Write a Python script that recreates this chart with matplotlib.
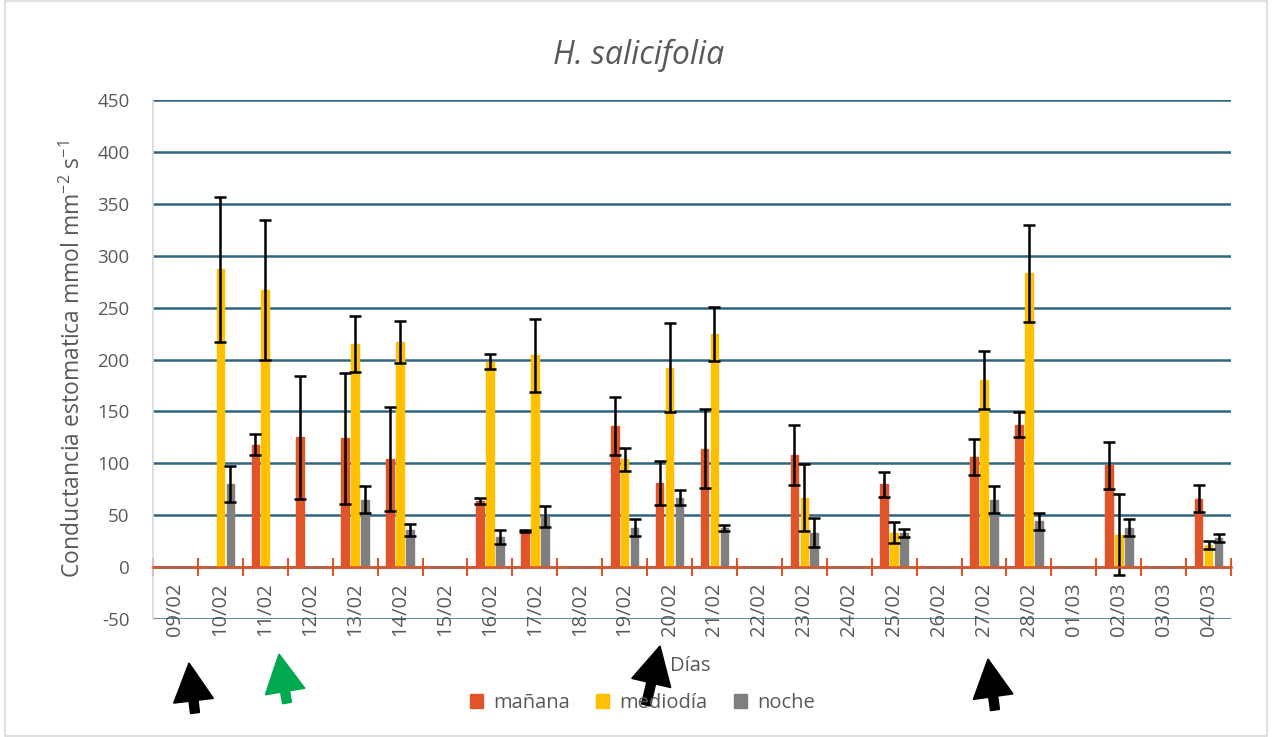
import matplotlib.pyplot as plt
import numpy as np
from matplotlib.patches import FancyArrow, Rectangle
from matplotlib.transforms import IdentityTransform

plt.rcParams['font.family'] = ['Open Sans', 'DejaVu Sans']
plt.rcParams['mathtext.fontset'] = 'custom'
plt.rcParams['mathtext.rm'] = 'Open Sans'
plt.rcParams['axes.unicode_minus'] = False

# Conductancia estomática por día y momento (media y error)
dias = ['09/02', '10/02', '11/02', '12/02', '13/02', '14/02', '15/02', '16/02',
        '17/02', '18/02', '19/02', '20/02', '21/02', '22/02', '23/02', '24/02',
        '25/02', '26/02', '27/02', '28/02', '01/03', '02/03', '03/03', '04/03']

manana = [0, 0, 118, 125, 124, 104, 0, 64, 35, 0, 136, 81, 114, 0, 108, 0,
          80, 0, 106, 137, 0, 98, 0, 66]
manana_err = [0, 0, 10, 59, 63, 50, 0, 3, 1, 0, 28, 21, 38, 0, 29, 0,
              12, 0, 17, 12, 0, 23, 0, 13]

mediodia = [0, 287, 267, 0, 215, 217, 0, 198, 204, 0, 104, 192, 225, 0, 67, 0,
            33, 0, 180, 283, 0, 31, 0, 21]
mediodia_err = [0, 70, 67, 0, 27, 20, 0, 7, 35, 0, 11, 43, 26, 0, 32, 0,
                10, 0, 28, 47, 0, 39, 0, 4]

noche = [0, 80, 0, 0, 65, 36, 0, 29, 49, 0, 38, 67, 38, 0, 33, 0,
         33, 0, 65, 44, 0, 38, 0, 28]
noche_err = [0, 17, 0, 0, 13, 6, 0, 7, 10, 0, 8, 7, 3, 0, 14, 0,
             4, 0, 13, 8, 0, 8, 0, 4]

series = [
    ('mañana', manana, manana_err, '#E0542A'),
    ('mediodía', mediodia, mediodia_err, '#FFC000'),
    ('noche', noche, noche_err, '#7F7F7F'),
]

texto = '#595959'
rejilla = '#2F6580'
eje_x = '#E0542A'

fig = plt.figure(figsize=(12.72, 7.37), dpi=100)
ax = fig.add_axes([0.1203, 0.1601, 0.8475, 0.7042])

x = np.arange(len(dias))
ancho = 0.17
desplaz = [-0.222, 0.0, 0.222]

for (nombre, vals, errs, color), dx in zip(series, desplaz):
    vals = np.array(vals, dtype=float)
    errs = np.array(errs, dtype=float)
    ax.bar(x + dx, vals, ancho, color=color, edgecolor=color, linewidth=1,
           label=nombre, zorder=3)
    con_dato = vals > 0
    ax.errorbar(x[con_dato] + dx, vals[con_dato], yerr=errs[con_dato], fmt='none',
                ecolor='black', elinewidth=1.8, capsize=4.5, capthick=1.8, zorder=4)
    # los días sin medida quedan como un trazo plano sobre el eje
    sin_dato = ~con_dato
    ax.hlines(vals[sin_dato], x[sin_dato] + dx - ancho / 2 - 0.03,
              x[sin_dato] + dx + ancho / 2 + 0.03, color='#9C6A5C', linewidth=2.2,
              alpha=0.6, zorder=6)

ax.set_ylim(-50, 450)
ax.set_xlim(-0.5, len(dias) - 0.5)
ax.set_yticks(np.arange(-50, 451, 50))
ax.yaxis.grid(True, color=rejilla, linewidth=1.8, zorder=0)
ax.set_axisbelow(True)

for lado in ['top', 'right']:
    ax.spines[lado].set_visible(False)
ax.spines['left'].set_color('#D9D9D9')
ax.spines['left'].set_linewidth(1.2)
ax.spines['bottom'].set_position(('data', 0))
ax.spines['bottom'].set_color(eje_x)
ax.spines['bottom'].set_linewidth(1.8)
ax.spines['bottom'].set_zorder(5)

ax.set_xticks(x)
ax.set_xticklabels(dias, rotation=90, fontsize=14.5, color=texto)
ax.set_xticks(np.arange(-0.5, len(dias), 1), minor=True)
ax.tick_params(axis='x', which='major', length=0, pad=11)
ax.tick_params(axis='x', which='minor', direction='inout', length=13,
               width=1.5, color=eje_x)
ax.tick_params(axis='y', length=0, pad=17, labelsize=13.5, labelcolor=texto)

ax.set_ylabel(r'Conductancia estomatica mmol mm$^{\mathregular{-2}}$ s$^{\mathregular{-1}}$',
              fontsize=16.5, color=texto, labelpad=8)

fig.text(0.502, 0.925, 'H. salicifolia', ha='center', va='center',
         fontsize=23, style='italic', color=texto)
fig.text(0.5425, 0.097, 'Días', ha='center', va='center', fontsize=14.5, color=texto)

fig.legend(loc='center', bbox_to_anchor=(0.505, 0.046), ncol=3, frameon=False,
           fontsize=14.5, handlelength=0.65, handleheight=0.65, handletextpad=0.5,
           columnspacing=1.3, labelcolor=texto)

# marco exterior
fig.add_artist(Rectangle((0.004, 0.002), 0.992, 0.996, transform=fig.transFigure,
                         fill=False, edgecolor='#D9D9D9', linewidth=1.2))

# flechas (coordenadas en píxeles, origen arriba a la izquierda)
flechas = [
    ((195, 713), (189, 663), 'black'),
    ((287, 703), (279, 654), '#00A94F'),
    ((646, 705), (660, 646), 'black'),
    ((995, 710), (988, 659), 'black'),
]
alto = 737
for (x0, y0), (x1, y1), color in flechas:
    fig.add_artist(FancyArrow(x0, alto - y0, x1 - x0, y0 - y1, width=9,
                              head_width=40, head_length=38,
                              length_includes_head=True, color=color,
                              transform=IdentityTransform()))

fig.savefig('out.png', dpi=100)
